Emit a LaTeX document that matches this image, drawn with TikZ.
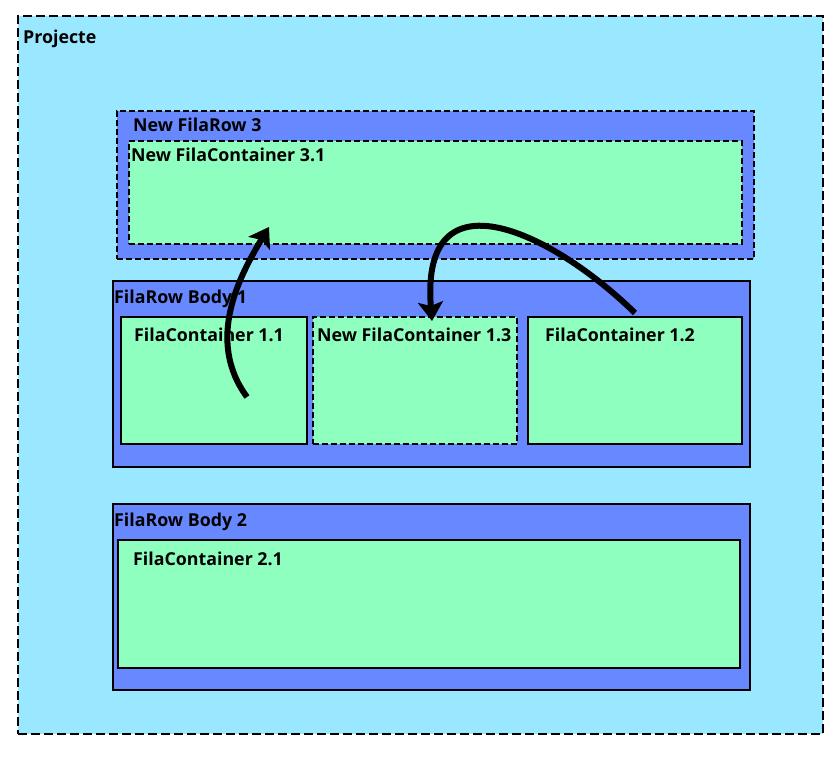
\documentclass[tikz,border=0pt]{standalone}
\usepackage{xcolor}
\usepackage{fontspec}
\setmainfont{Open Sans}
\usepackage{tikz}
\usetikzlibrary{arrows.meta}
\definecolor{projcyan}{RGB}{153,232,255}
\definecolor{rowblue}{RGB}{104,136,255}
\definecolor{cellgreen}{RGB}{142,255,190}
\tikzset{
  box/.style={draw=black, line width=1.6pt, anchor=north west, inner sep=0pt},
  newbox/.style={box, dash pattern=on 6pt off 3pt},
  lbl/.style={anchor=base west, inner sep=0pt, font=\fontsize{17.8}{20}\selectfont\bfseries},
  move/.style={line width=6pt, -{Stealth[length=19pt,width=25pt,inset=4pt]}}
}
\begin{document}
\begin{tikzpicture}[x=1pt,y=-1pt]
\useasboundingbox (0,0) rectangle (837,768);
\node[newbox, fill=projcyan, line width=2pt, dash pattern=on 9pt off 4pt, minimum width=805pt, minimum height=718pt] (Proj) at (17,15) {};
\node[lbl] (ProjLabel) at (23,44) {Projecte};
% new row 3
\node[newbox, fill=rowblue, minimum width=637pt, minimum height=148pt] (Row3) at (116,110) {};
\node[lbl] (Row3Label) at (133,131) {New FilaRow 3};
\node[newbox, fill=cellgreen, minimum width=613pt, minimum height=103pt] (Cont31) at (128,140) {};
\node[lbl] (Cont31Label) at (131,161) {New FilaContainer 3.1};
% body 1
\node[box, fill=rowblue, minimum width=637pt, minimum height=186pt] (Body1) at (112,280) {};
\node[lbl] (Body1Label) at (114,303) {FilaRow Body 1};
\node[box, fill=cellgreen, minimum width=186pt, minimum height=127pt] (Cont11) at (120,316) {};
\node[lbl] (Cont11Label) at (134,341) {FilaContainer 1.1};
\node[newbox, fill=cellgreen, minimum width=204pt, minimum height=127pt] (Cont13) at (312,316) {};
\node[lbl] (Cont13Label) at (317,341) {New FilaContainer 1.3};
\node[box, fill=cellgreen, minimum width=214pt, minimum height=127pt] (Cont12) at (527,316) {};
\node[lbl] (Cont12Label) at (545,341) {FilaContainer 1.2};
% body 2
\node[box, fill=rowblue, minimum width=637pt, minimum height=186pt] (Body2) at (112,503) {};
\node[lbl] (Body2Label) at (114,526) {FilaRow Body 2};
\node[box, fill=cellgreen, minimum width=622pt, minimum height=128pt] (Cont21) at (117,539) {};
\node[lbl] (Cont21Label) at (133,565) {FilaContainer 2.1};
% moves
\coordinate (From11) at (247,397);
\coordinate (To31) at (269,227);
\coordinate (From12) at (635,313);
\coordinate (To13) at (432,321);
\draw[move] (From11) .. controls (205,340) and (240,275) .. (To31);
\draw[move] (From12) .. controls (550,230) and (420,170) .. (To13);
\end{tikzpicture}
\end{document}
